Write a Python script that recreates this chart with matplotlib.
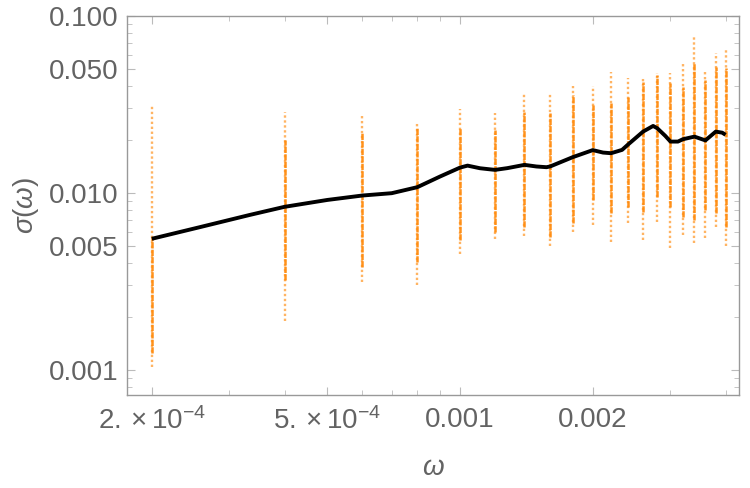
import numpy as np
import matplotlib
matplotlib.use("Agg")
import matplotlib.pyplot as plt
from matplotlib.ticker import FixedLocator, NullFormatter

# column positions (omega) of the scattered samples
omega_cols = [2e-4, 4e-4, 6e-4, 8e-4, 1.0e-3, 1.2e-3, 1.4e-3, 1.6e-3, 1.8e-3, 2.0e-3,
              2.2e-3, 2.4e-3, 2.6e-3, 2.8e-3, 3.0e-3, 3.2e-3, 3.4e-3, 3.6e-3, 3.8e-3, 4.0e-3]
# full extent of each column
col_top = [0.0314, 0.0287, 0.0272, 0.0252, 0.0298, 0.0283, 0.0367, 0.0367, 0.0402, 0.0402,
           0.0483, 0.0447, 0.0452, 0.0477, 0.0477, 0.0542, 0.0781, 0.0483, 0.0618, 0.0651]
col_bot = [0.00103, 0.00189, 0.00314, 0.00302, 0.00452, 0.0055, 0.00572, 0.00502, 0.00603, 0.0066,
           0.00528, 0.00677, 0.00542, 0.00685, 0.00489, 0.00579, 0.00522, 0.00557, 0.00643, 0.00502]
# dense part of each column
core_top = [0.0056, 0.0199, 0.0218, 0.0236, 0.0233, 0.0227, 0.0287, 0.0283, 0.0358, 0.0314,
            0.0322, 0.0348, 0.0424, 0.0465, 0.0419, 0.0397, 0.0542, 0.0435, 0.0515, 0.0508]
core_bot = [0.00125, 0.00322, 0.00382, 0.00407, 0.00542, 0.00603, 0.00643, 0.00564, 0.00677, 0.00912,
            0.0077, 0.00834, 0.00781, 0.00949, 0.00834, 0.00731, 0.00704, 0.00802, 0.0077, 0.00643]

# smoothed sigma(omega) curve
curve_w = [2e-4, 2.57e-4, 3.34e-4, 4e-4, 5e-4, 6e-4, 7e-4, 8e-4, 9e-4, 1.0e-3, 1.04e-3, 1.11e-3,
           1.2e-3, 1.28e-3, 1.4e-3, 1.49e-3, 1.57e-3, 1.6e-3, 1.8e-3, 2.0e-3, 2.11e-3, 2.2e-3,
           2.33e-3, 2.4e-3, 2.6e-3, 2.74e-3, 2.8e-3, 2.92e-3, 3.0e-3, 3.12e-3, 3.2e-3, 3.4e-3,
           3.6e-3, 3.8e-3, 3.93e-3, 4.0e-3]
curve_s = [0.0055, 0.0064, 0.00751, 0.00834, 0.00912, 0.00966, 0.00996, 0.01077, 0.01236, 0.0139,
           0.01426, 0.01378, 0.01349, 0.0138, 0.0144, 0.0141, 0.01397, 0.0141, 0.01591, 0.01745,
           0.0169, 0.01676, 0.0175, 0.0187, 0.0222, 0.0239, 0.0232, 0.0210, 0.0195, 0.0195,
           0.0201, 0.0208, 0.0198, 0.0222, 0.0219, 0.0213]

xticks = [2e-4, 5e-4, 1e-3, 2e-3]
xticklabels = [r"$\mathregular{2.\times10^{-4}}$", r"$\mathregular{5.\times10^{-4}}$", "0.001", "0.002"]
yticks = [0.001, 0.005, 0.010, 0.050, 0.100]
yticklabels = ["0.001", "0.005", "0.010", "0.050", "0.100"]

orange = "#ff8c10"
grey = "#636363"

plt.rcParams["font.family"] = ["Liberation Sans", "DejaVu Sans"]
plt.rcParams["mathtext.fontset"] = "custom"
plt.rcParams["mathtext.rm"] = "Liberation Sans"
plt.rcParams["mathtext.it"] = "Liberation Sans:italic"

fig = plt.figure(figsize=(7.5, 4.88), dpi=100)
ax = fig.add_axes([0.1693, 0.1906, 0.816, 0.7766])
ax.set_xscale("log")
ax.set_yscale("log")

ax.vlines(omega_cols, col_bot, col_top, colors=orange, linewidth=1.7,
          linestyles=(0, (1.0, 1.1)), alpha=0.65)
ax.vlines(omega_cols, core_bot, core_top, colors=orange, linewidth=1.8,
          linestyles=(0, (2.5, 0.5)), alpha=0.95)
ax.plot(curve_w, curve_s, color="black", linewidth=2.8, solid_capstyle="butt",
        solid_joinstyle="round", zorder=3)

ax.set_xlim(1.757e-4, 4.29e-3)
ax.set_ylim(7.2e-4, 0.1)

ax.xaxis.set_major_locator(FixedLocator(xticks))
ax.set_xticklabels(xticklabels)
minor_x = [3e-4, 4e-4, 6e-4, 7e-4, 8e-4, 9e-4, 3e-3, 4e-3]
ax.xaxis.set_minor_locator(FixedLocator(minor_x))
ax.xaxis.set_minor_formatter(NullFormatter())

ax.yaxis.set_major_locator(FixedLocator(yticks))
ax.set_yticklabels(yticklabels)
minor_y = [8e-4, 9e-4, 0.002, 0.003, 0.004, 0.006, 0.007, 0.008, 0.009,
           0.02, 0.03, 0.04, 0.06, 0.07, 0.08, 0.09]
ax.yaxis.set_minor_locator(FixedLocator(minor_y))
ax.yaxis.set_minor_formatter(NullFormatter())

for s in ax.spines.values():
    s.set_color("#999999")
    s.set_linewidth(1.0)

ax.tick_params(which="both", direction="in", top=True, right=True, color="#bbbbbb",
               labelcolor=grey, labelsize=20)
ax.tick_params(which="major", length=6, width=0.8)
ax.tick_params(which="minor", length=3.5, width=0.6)
ax.tick_params(axis="x", which="major", pad=9)
ax.tick_params(axis="y", which="major", pad=6)

ax.set_xlabel(r"$\omega$", fontsize=20, color=grey, labelpad=14)
ax.set_ylabel(r"$\sigma(\omega)$", fontsize=20, color=grey, labelpad=6)

fig.savefig("out.png", dpi=100)
